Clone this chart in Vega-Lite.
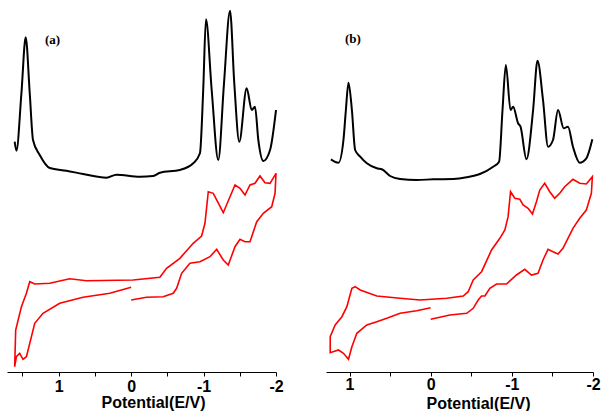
{
 "$schema": "https://vega.github.io/schema/vega-lite/v6.json",
 "background": "white",
 "padding": {"left": 7, "top": 0, "right": 0, "bottom": 0},
 "bounds": "flush",
 "spacing": 50,
 "config": {"view": {"stroke": null}},
 "datasets": {
  "a_dpv": [
   {"V":1.608,"i":230.3},{"V":1.584,"i":221.3},{"V":1.515,"i":278.7},{"V":1.456,"i":334.7},{"V":1.400,"i":278.7},{"V":1.355,"i":232},{"V":1.262,"i":217},{"V":1.124,"i":204},{"V":0.893,"i":201.3},{"V":0.664,"i":198},{"V":0.340,"i":194.3},{"V":0.202,"i":197.3},{"V":-0.120,"i":195.3},{"V":-0.304,"i":196},{"V":-0.397,"i":199.3},{"V":-0.673,"i":202},{"V":-0.857,"i":208.7},{"V":-0.950,"i":218.7},{"V":-0.995,"i":282},{"V":-1.033,"i":352.7},{"V":-1.112,"i":282},{"V":-1.203,"i":212},{"V":-1.282,"i":288.7},{"V":-1.365,"i":361.3},{"V":-1.424,"i":288.7},{"V":-1.493,"i":230.3},{"V":-1.595,"i":283.7},{"V":-1.665,"i":262},{"V":-1.710,"i":265.3},{"V":-1.756,"i":232},{"V":-1.825,"i":211},{"V":-1.918,"i":222},{"V":-2.0,"i":262}
  ],
  "a_cv": [
   {"V":0.0,"i":84.7},{"V":0.294,"i":78.7},{"V":0.664,"i":74.7},{"V":0.986,"i":68.7},{"V":1.217,"i":58.7},{"V":1.331,"i":48.7},{"V":1.377,"i":35.3},{"V":1.446,"i":15.3},{"V":1.493,"i":12.7},{"V":1.539,"i":18.7},{"V":1.584,"i":15.3},{"V":1.608,"i":5.3},{"V":1.594,"i":42},{"V":1.515,"i":65.3},{"V":1.446,"i":78.7},{"V":1.400,"i":90.3},{"V":1.331,"i":88},{"V":1.124,"i":88.7},{"V":0.848,"i":93.3},{"V":0.617,"i":91.3},{"V":-0.028,"i":92},{"V":-0.397,"i":94.7},{"V":-0.489,"i":103.7},{"V":-0.673,"i":113.7},{"V":-0.857,"i":128.7},{"V":-0.973,"i":136},{"V":-1.019,"i":148.7},{"V":-1.065,"i":180.3},{"V":-1.134,"i":178.7},{"V":-1.272,"i":159.3},{"V":-1.365,"i":175.3},{"V":-1.434,"i":187},{"V":-1.503,"i":183.7},{"V":-1.572,"i":177},{"V":-1.641,"i":187},{"V":-1.710,"i":188.7},{"V":-1.779,"i":196},{"V":-1.848,"i":189.3},{"V":-1.918,"i":188.7},{"V":-2.0,"i":198.7},{"V":-1.987,"i":178.7},{"V":-1.941,"i":165.3},{"V":-1.825,"i":158.7},{"V":-1.734,"i":150.3},{"V":-1.641,"i":130.3},{"V":-1.572,"i":130.3},{"V":-1.503,"i":132.7},{"V":-1.434,"i":125.3},{"V":-1.341,"i":107},{"V":-1.272,"i":112},{"V":-1.181,"i":122.7},{"V":-1.088,"i":115.3},{"V":-0.950,"i":110.3},{"V":-0.812,"i":108.7},{"V":-0.697,"i":98.7},{"V":-0.628,"i":83.7},{"V":-0.581,"i":78.7},{"V":-0.442,"i":75.3},{"V":-0.213,"i":74.7},{"V":0.0,"i":72}
  ],
  "b_dpv": [
   {"V":1.230,"i":212.7},{"V":1.136,"i":209.3},{"V":1.075,"i":232},{"V":1.045,"i":262},{"V":1.013,"i":289.3},{"V":0.971,"i":262},{"V":0.931,"i":222},{"V":0.869,"i":215.3},{"V":0.787,"i":208.7},{"V":0.664,"i":203.7},{"V":0.602,"i":202.7},{"V":0.500,"i":196},{"V":0.377,"i":193},{"V":0.172,"i":192},{"V":-0.032,"i":192.7},{"V":-0.278,"i":193},{"V":-0.443,"i":194.7},{"V":-0.606,"i":198},{"V":-0.770,"i":205.3},{"V":-0.843,"i":210.3},{"V":-0.885,"i":262},{"V":-0.926,"i":307},{"V":-0.984,"i":262},{"V":-1.016,"i":265.3},{"V":-1.077,"i":248.7},{"V":-1.107,"i":245.3},{"V":-1.180,"i":212.7},{"V":-1.262,"i":262},{"V":-1.316,"i":311.3},{"V":-1.384,"i":272},{"V":-1.446,"i":225.3},{"V":-1.507,"i":232},{"V":-1.569,"i":262},{"V":-1.639,"i":243.7},{"V":-1.692,"i":245.3},{"V":-1.753,"i":225.3},{"V":-1.836,"i":209.3},{"V":-1.918,"i":213.7},{"V":-1.992,"i":232.7}
  ],
  "b_cv": [
   {"V":0.0,"i":64.3},{"V":0.172,"i":61.3},{"V":0.377,"i":58.7},{"V":0.541,"i":53.7},{"V":0.664,"i":50.3},{"V":0.787,"i":47},{"V":0.910,"i":38.7},{"V":0.971,"i":25.3},{"V":1.013,"i":12.7},{"V":1.075,"i":18.7},{"V":1.136,"i":22},{"V":1.238,"i":19.3},{"V":1.238,"i":35.3},{"V":1.177,"i":47},{"V":1.094,"i":55.3},{"V":1.033,"i":65.3},{"V":0.971,"i":83.7},{"V":0.931,"i":85.3},{"V":0.869,"i":82},{"V":0.664,"i":76},{"V":0.377,"i":73.7},{"V":0.132,"i":72},{"V":-0.197,"i":73.7},{"V":-0.401,"i":76},{"V":-0.462,"i":80.3},{"V":-0.524,"i":92},{"V":-0.627,"i":100.3},{"V":-0.750,"i":122},{"V":-0.852,"i":133.7},{"V":-0.914,"i":142},{"V":-0.954,"i":155.3},{"V":-0.984,"i":180.3},{"V":-1.037,"i":173.7},{"V":-1.098,"i":172.7},{"V":-1.139,"i":167},{"V":-1.200,"i":163.7},{"V":-1.254,"i":158},{"V":-1.303,"i":170.3},{"V":-1.344,"i":182},{"V":-1.405,"i":188.7},{"V":-1.467,"i":180.3},{"V":-1.528,"i":173.7},{"V":-1.590,"i":178.7},{"V":-1.651,"i":185.3},{"V":-1.753,"i":192.7},{"V":-1.836,"i":188.7},{"V":-1.918,"i":188},{"V":-1.992,"i":195.3},{"V":-1.980,"i":178.7},{"V":-1.918,"i":162},{"V":-1.836,"i":153.7},{"V":-1.753,"i":143.7},{"V":-1.630,"i":123.7},{"V":-1.569,"i":118},{"V":-1.507,"i":120.3},{"V":-1.446,"i":122.7},{"V":-1.384,"i":112},{"V":-1.323,"i":98.7},{"V":-1.242,"i":97},{"V":-1.159,"i":102.7},{"V":-1.057,"i":97},{"V":-0.934,"i":88},{"V":-0.812,"i":88},{"V":-0.729,"i":83.7},{"V":-0.668,"i":76},{"V":-0.627,"i":76},{"V":-0.585,"i":72},{"V":-0.524,"i":63.7},{"V":-0.443,"i":58.7},{"V":-0.237,"i":57},{"V":0.0,"i":52.7}
  ]
 },
 "hconcat": [
  {
   "width": 269, "height": 372,
   "title": {"text": "(a)", "anchor": "start", "frame": "group", "orient": "top", "offset": 0, "baseline": "alphabetic", "dx": 38, "dy": 57, "font": "Liberation Serif", "fontSize": 13, "fontWeight": "bold", "color": "black"},
   "encoding": {
    "x": {"field": "V", "type": "quantitative", "scale": {"domain": [1.714, -2], "nice": false, "zero": false},
     "axis": {"values": [1.5, 1, 0.5, 0, -0.5, -1, -1.5, -2], "labelExpr": "datum.value % 1 == 0 ? '' + datum.value : ''", "grid": false, "domainColor": "black", "tickColor": "black", "tickSize": 4, "labelFont": "Liberation Sans", "labelFontSize": 16, "labelFontWeight": "bold", "labelColor": "black", "labelPadding": 2, "labelFlush": false, "labelOverlap": false, "title": "Potential(E/V)", "titleFont": "Liberation Sans", "titleFontSize": 16, "titleFontWeight": "bold", "titleColor": "black", "titleX": 146, "titleY": 35, "titleAlign": "center", "titleBaseline": "alphabetic"}},
    "y": {"field": "i", "type": "quantitative", "scale": {"domain": [0, 372], "nice": false, "zero": false}, "axis": null},
    "order": {"value": null}
   },
   "layer": [
    {"data": {"name": "a_dpv"}, "mark": {"type": "line", "color": "black", "strokeWidth": 2, "interpolate": "monotone"}},
    {"data": {"name": "a_cv"}, "mark": {"type": "line", "color": "#ff0000", "strokeWidth": 1.6}}
   ]
  },
  {
   "width": 267, "height": 372,
   "title": {"text": "(b)", "anchor": "start", "frame": "group", "orient": "top", "offset": 0, "baseline": "alphabetic", "dx": 19, "dy": 56, "font": "Liberation Serif", "fontSize": 13, "fontWeight": "bold", "color": "black"},
   "encoding": {
    "x": {"field": "V", "type": "quantitative", "scale": {"domain": [1.29, -2], "nice": false, "zero": false},
     "axis": {"values": [1, 0.5, 0, -0.5, -1, -1.5, -2], "labelExpr": "datum.value % 1 == 0 ? '' + datum.value : ''", "grid": false, "domainColor": "black", "tickColor": "black", "tickSize": 4, "labelFont": "Liberation Sans", "labelFontSize": 16, "labelFontWeight": "bold", "labelColor": "black", "labelPadding": 0, "labelFlush": false, "labelOverlap": false, "title": "Potential(E/V)", "titleFont": "Liberation Sans", "titleFontSize": 16, "titleFontWeight": "bold", "titleColor": "black", "titleX": 152, "titleY": 36, "titleAlign": "center", "titleBaseline": "alphabetic"}},
    "y": {"field": "i", "type": "quantitative", "scale": {"domain": [0, 372], "nice": false, "zero": false}, "axis": null},
    "order": {"value": null}
   },
   "layer": [
    {"data": {"name": "b_dpv"}, "mark": {"type": "line", "color": "black", "strokeWidth": 2, "interpolate": "monotone"}},
    {"data": {"name": "b_cv"}, "mark": {"type": "line", "color": "#ff0000", "strokeWidth": 1.6}}
   ]
  }
 ]
}
